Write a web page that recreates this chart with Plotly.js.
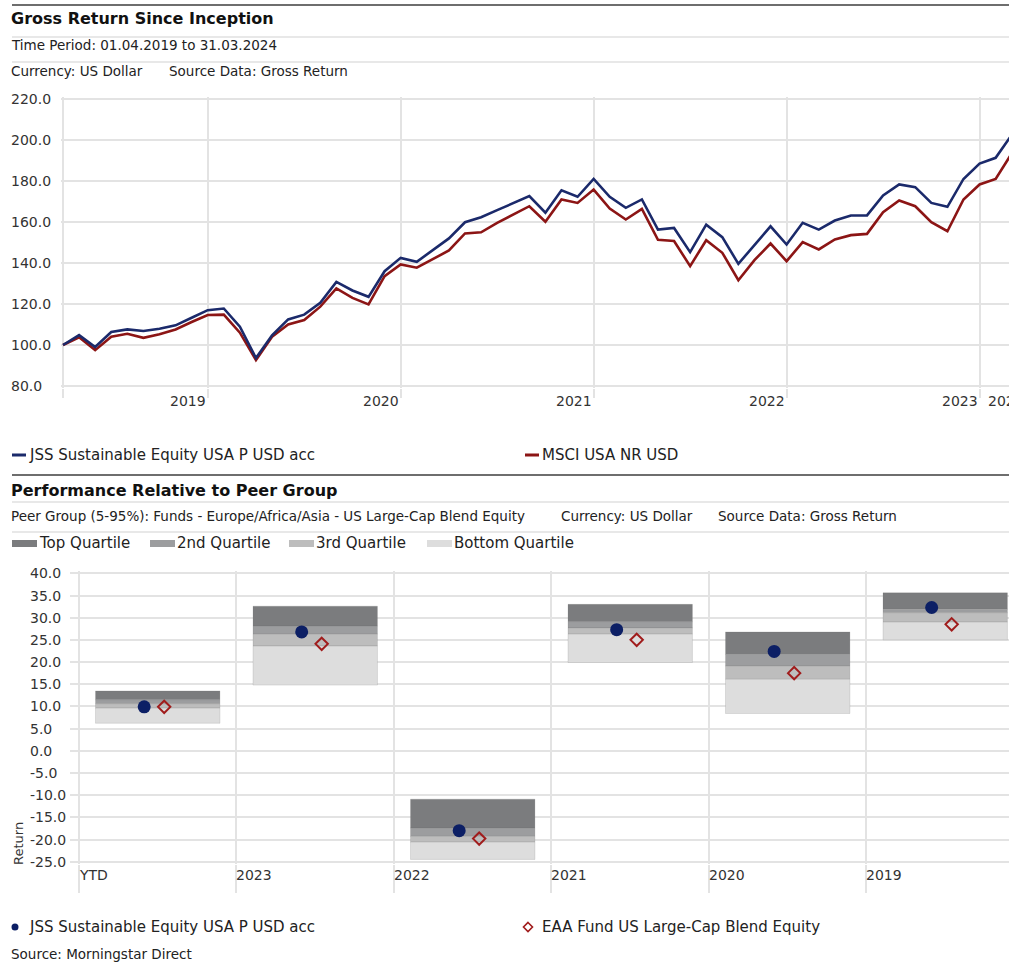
<!DOCTYPE html>
<html>
<head>
<meta charset="utf-8">
<script src="https://cdn.plot.ly/plotly-3.0.1.min.js"></script>
<style>
html,body{margin:0;padding:0;background:#fff;overflow:hidden}
#chart{width:1009px;height:963px}
</style>
</head>
<body>
<div id="chart"></div>
<script>
// ---------- Data: Gross Return Since Inception (month index 0 = 31.03.2019 = 100) ----------
const monthIdx = [0,1,2,3,4,5,6,7,8,9,10,11,12,13,14,15,16,17,18,19,20,21,22,23,24,25,26,27,28,29,
  30,31,32,33,34,35,36,37,38,39,40,41,42,43,44,45,46,47,48,49,50,51,52,53,54,55,56,57,58,59];
const fundIndex = [100,104.8,99.0,106.3,107.6,106.8,107.9,109.6,113.3,117.0,
  117.8,108.9,93.6,104.7,112.5,114.8,120.6,130.8,126.6,123.5,
  136.0,142.5,140.6,146.3,152.0,159.9,162.3,165.8,169.3,172.6,
  164.5,175.5,172.3,181.0,172.3,166.9,171.0,156.3,157.1,145.3,
  158.7,152.6,139.6,149.0,157.9,149.0,159.6,156.3,160.7,163.2,
  163.2,172.9,178.3,177.0,169.3,167.4,181.0,188.5,191.3,202.5];
const benchIndex = [100,103.8,97.5,104.0,105.5,103.5,105.2,107.6,111.2,114.6,
  114.8,106.0,92.7,104.0,110.0,112.2,118.7,127.6,123.0,119.8,
  133.6,139.3,137.7,141.7,146.1,154.4,155.0,159.6,163.6,167.7,
  160.1,171.0,169.3,175.8,166.6,161.2,166.4,151.3,150.7,138.5,
  151.1,145.0,131.6,141.4,149.5,140.9,150.2,146.6,151.5,153.6,
  154.2,164.8,170.5,167.7,159.9,155.5,171.0,178.3,181.0,193.5];
const topSeriesNames = ['JSS Sustainable Equity USA P USD acc', 'MSCI USA NR USD'];
const yearTickIdx = [0, 9, 21, 33, 45, 57];
const yearTickText = ['', '2019', '2020', '2021', '2022', '2023'];
const trailingYearText = '2024';
const topYTicks = [80, 100, 120, 140, 160, 180, 200, 220];

// ---------- Data: Performance Relative to Peer Group ----------
const periods = ['YTD', '2023', '2022', '2021', '2020', '2019'];
const peerP5  = [13.5, 32.6, -10.9, 33.0, 26.8, 35.6];
const peerQ1  = [11.5, 28.1, -17.4, 29.1, 21.7, 31.9];
const peerMed = [10.6, 26.3, -19.3, 27.7, 19.1, 31.1];
const peerQ3  = [9.6, 23.6, -20.6, 26.3, 16.1, 29.0];
const peerP95 = [6.2, 14.8, -24.5, 19.9, 8.4, 25.0];
const fundReturn = [9.9, 26.8, -18.0, 27.3, 22.4, 32.3];
const peerReturn = [9.9, 24.1, -19.8, 25.0, 17.5, 28.5];
const quartileNames = ['Top Quartile', '2nd Quartile', '3rd Quartile', 'Bottom Quartile'];
const bottomSeriesNames = ['JSS Sustainable Equity USA P USD acc', 'EAA Fund US Large-Cap Blend Equity'];
const bottomYTicks = [-25, -20, -15, -10, -5, 0, 5, 10, 15, 20, 25, 30, 35, 40];

// ---------- Styling ----------
const W = 1009, H = 963;
const px = x => x / W;
const py = y => 1 - y / H;
const FONT = 'DejaVu Sans, Verdana, sans-serif';
const GRID = '#e3e3e3';
const NAVY = '#1b2a6b';
const DARKRED = '#8c1515';
const MARK_NAVY = '#0c1f65';
const MARK_RED = '#a01c1c';
const quartileColors = ['#7b7c7e', '#9c9d9f', '#bdbdbd', '#dddddd'];

// ---------- Traces ----------
const traces = [];
traces.push({type:'scatter', mode:'lines', x: monthIdx, y: benchIndex, name: topSeriesNames[1],
  line:{color: DARKRED, width: 2.6}, xaxis:'x', yaxis:'y', hoverinfo:'skip'});
traces.push({type:'scatter', mode:'lines', x: monthIdx, y: fundIndex, name: topSeriesNames[0],
  line:{color: NAVY, width: 2.6}, xaxis:'x', yaxis:'y', hoverinfo:'skip'});

const centers = periods.map((_, k) => k + 0.5);
const bounds = [peerP5, peerQ1, peerMed, peerQ3, peerP95];
for (let q = 0; q < 4; q++) {
  const upper = bounds[q], lower = bounds[q + 1];
  traces.push({type:'bar', x: centers, base: lower, y: upper.map((u, i) => u - lower[i]),
    width: 0.79, name: quartileNames[q], xaxis:'x2', yaxis:'y2', hoverinfo:'skip',
    marker:{color: quartileColors[q], line:{color:'rgba(110,110,110,0.18)', width:1}}});
}
traces.push({type:'scatter', mode:'markers', x: centers.map(c => c - 0.086), y: fundReturn,
  name: bottomSeriesNames[0], xaxis:'x2', yaxis:'y2', hoverinfo:'skip',
  marker:{symbol:'circle', size:13, color: MARK_NAVY}});
traces.push({type:'scatter', mode:'markers', x: centers.map(c => c + 0.041), y: peerReturn,
  name: bottomSeriesNames[1], xaxis:'x2', yaxis:'y2', hoverinfo:'skip',
  marker:{symbol:'diamond-open', size:9.5, color: MARK_RED, line:{color: MARK_RED, width:2}}});

// ---------- Annotations (text) ----------
const ann = [];
function txt(text, x, y, o) {
  ann.push(Object.assign({text: text, x: x, y: y, xref:'paper', yref:'paper', showarrow:false,
    xanchor:'left', yanchor:'middle', font:{family: FONT, size: 13.5, color:'#222'}}, o || {}));
}
// headers
txt('<b>Gross Return Since Inception</b>', px(9), py(18), {font:{family: FONT, size:16, color:'#111'}});
txt('Time Period: 01.04.2019 to 31.03.2024', px(9), py(45));
txt('Currency: US Dollar', px(9), py(71));
txt('Source Data: Gross Return', px(167), py(71));
txt('<b>Performance Relative to Peer Group</b>', px(9), py(490), {font:{family: FONT, size:16, color:'#111'}});
txt('Peer Group (5-95%): Funds - Europe/Africa/Asia - US Large-Cap Blend Equity', px(9), py(516));
txt('Currency: US Dollar', px(559), py(516));
txt('Source Data: Gross Return', px(716), py(516));
txt('Source: Morningstar Direct', px(9), py(954));

// top y tick labels (left aligned)
topYTicks.forEach(v => txt(v.toFixed(1), px(9), v, {yref:'y', font:{family: FONT, size:14, color:'#333'}}));
// top x labels (left of year-end gridlines)
yearTickIdx.forEach((v, i) => { if (yearTickText[i]) txt(yearTickText[i], v, py(401),
  {xref:'x', xanchor:'right', xshift:0, font:{family: FONT, size:14, color:'#333'}}); });
txt(trailingYearText, yearTickIdx[yearTickIdx.length - 1], py(401),
  {xref:'x', xanchor:'left', xshift:6, font:{family: FONT, size:14, color:'#333'}});

// bottom y tick labels
bottomYTicks.forEach(v => txt(v.toFixed(1), px(28), v, {yref:'y2', font:{family: FONT, size:14, color:'#333'}}));
// bottom x labels (right of category boundaries)
periods.forEach((p, k) => txt(p, k, py(875), {xref:'x2', xanchor:'left', xshift:-2,
  font:{family: FONT, size:14, color:'#333'}}));
// Return axis title
txt('Return', px(18), py(844), {xanchor:'center', textangle:-90, font:{family: FONT, size:13, color:'#333'}});

// legends (text)
txt(topSeriesNames[0], px(27), py(455), {font:{family: FONT, size:15, color:'#222'}});
txt(topSeriesNames[1], px(540), py(455), {font:{family: FONT, size:15, color:'#222'}});
const qLegX = [12, 150, 289, 427];
quartileNames.forEach((n, i) => txt(n, px(qLegX[i] + 25), py(543), {font:{family: FONT, size:15, color:'#222'}}));
txt(bottomSeriesNames[0], px(27), py(927), {font:{family: FONT, size:15, color:'#222'}});
txt(bottomSeriesNames[1], px(540), py(927), {font:{family: FONT, size:15, color:'#222'}});

// ---------- Shapes (rules and legend swatches) ----------
const shapes = [];
function hline(y, color, w, x0) {
  shapes.push({type:'line', xref:'paper', yref:'paper', x0: px(x0 || 12), x1: 1, y0: py(y), y1: py(y),
    line:{color: color, width: w}});
}
hline(5, '#6e6e6e', 2); hline(37, '#e0e0e0', 1.5); hline(62, '#e0e0e0', 1.5);
hline(475, '#6e6e6e', 2); hline(502, '#e0e0e0', 1.5); hline(532, '#e0e0e0', 1.5);
// top legend swatches
[[12, NAVY], [525, DARKRED]].forEach(([x, c]) => shapes.push({type:'line', xref:'paper', yref:'paper',
  x0: px(x), x1: px(x + 14), y0: py(455), y1: py(455), line:{color: c, width: 3}}));
// quartile legend swatches
qLegX.forEach((x, i) => shapes.push({type:'rect', xref:'paper', yref:'paper',
  x0: px(x), x1: px(x + 25), y0: py(547), y1: py(540), fillcolor: quartileColors[i], line:{width:0}}));
// bottom legend symbols
shapes.push({type:'circle', xref:'paper', yref:'paper', x0: px(11.5), x1: px(18.5), y0: py(930.5), y1: py(923.5),
  fillcolor: MARK_NAVY, line:{width:0}});
(function(){ const cx = 528, cy = 927, r = 4.5;
  shapes.push({type:'path', xref:'paper', yref:'paper',
    path: 'M' + px(cx) + ',' + py(cy - r) + ' L' + px(cx + r) + ',' + py(cy) + ' L' + px(cx) + ',' + py(cy + r) +
          ' L' + px(cx - r) + ',' + py(cy) + ' Z',
    fillcolor:'white', line:{color: MARK_RED, width: 1.6}});
})();

// ---------- Layout ----------
const layout = {
  width: W, height: H, margin:{l:0, r:0, t:0, b:0}, autosize:false,
  paper_bgcolor:'#fff', plot_bgcolor:'#fff', showlegend:false, barmode:'overlay',
  font:{family: FONT, color:'#333'},
  xaxis:{domain:[px(60.6), 1], range:[-0.15, 58.83], tickvals: yearTickIdx, showticklabels:false,
    ticks:'outside', ticklen:9, tickwidth:2, tickcolor: GRID, showgrid:true, gridcolor: GRID, gridwidth:2,
    zeroline:false, showline:false, fixedrange:true},
  yaxis:{domain:[py(388.05), py(96.95)], range:[79, 221], tickvals: topYTicks, showticklabels:false,
    showgrid:true, gridcolor: GRID, gridwidth:2, zeroline:false, showline:false, fixedrange:true},
  xaxis2:{domain:[px(70), 1], range:[-0.057, 5.905], tickvals: periods.map((_, k) => k), showticklabels:false,
    ticks:'outside', ticklen:28, tickwidth:2, tickcolor: GRID, showgrid:true, gridcolor: GRID, gridwidth:2,
    zeroline:false, showline:false, fixedrange:true, anchor:'y2'},
  yaxis2:{domain:[py(863.9), py(571.1)], range:[-25.5, 40.5], tickvals: bottomYTicks, showticklabels:false,
    showgrid:true, gridcolor: GRID, gridwidth:2, zeroline:false, showline:false, fixedrange:true, anchor:'x2'},
  annotations: ann,
  shapes: shapes
};

Plotly.newPlot('chart', traces, layout, {displayModeBar:false, staticPlot:true});
</script>
</body>
</html>
